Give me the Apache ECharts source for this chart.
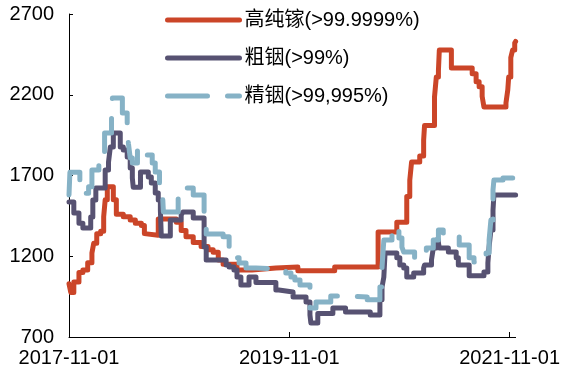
<!DOCTYPE html>
<html>
<head>
<meta charset="utf-8">
<script src="https://cdn.jsdelivr.net/npm/echarts@6/dist/echarts.min.js"></script>
<style>
html,body{margin:0;padding:0;background:#fff;}
#chart{width:563px;height:373px;}
</style>
</head>
<body>
<div id="chart"></div>
<script>
const seriesNames = ['高纯镓(>99.9999%)', '粗铟(>99%)', '精铟(>99,995%)'];

const galliumDates = ['2017-11-01','2017-11-07','2017-11-17','2017-12-04','2017-12-17','2018-01-02','2018-01-16','2018-01-22','2018-02-01','2018-02-14','2018-02-24','2018-03-01','2018-03-08','2018-03-28','2018-04-07','2018-04-30','2018-05-23','2018-06-09','2018-06-29','2018-07-09','2018-07-15','2018-08-24','2018-10-23','2018-11-08','2018-11-24','2018-12-18','2019-01-13','2019-02-05','2019-02-22','2019-03-11','2019-03-27','2019-05-12','2019-07-01','2019-09-18','2019-11-30','2020-03-31','2020-08-22','2020-10-23','2020-11-25','2020-12-05','2020-12-11','2021-01-07','2021-01-20','2021-01-23','2021-02-25','2021-03-03','2021-03-10','2021-03-13','2021-04-22','2021-06-30','2021-07-13','2021-07-23','2021-08-02','2021-08-08','2021-10-20','2021-10-26','2021-10-29','2021-11-05','2021-11-11','2021-11-18','2021-11-21'];
const galliumValues = [1030,975,1040,1100,1115,1160,1220,1280,1340,1355,1445,1550,1630,1550,1460,1445,1425,1405,1390,1340,1330,1430,1410,1360,1320,1285,1260,1240,1225,1177,1150,1115,1127,1133,1110,1133,1350,1410,1570,1670,1783,1820,1920,2010,2186,2310,2350,2477,2365,2330,2280,2250,2190,2124,2150,2230,2310,2430,2477,2520,2530];

const crudeIndiumDates = ['2017-11-01','2017-11-17','2017-12-04','2017-12-17','2018-01-12','2018-01-19','2018-01-29','2018-03-01','2018-03-12','2018-03-18','2018-03-28','2018-04-20','2018-04-30','2018-05-13','2018-05-23','2018-05-30','2018-06-02','2018-06-26','2018-07-22','2018-08-01','2018-08-14','2018-08-24','2018-08-31','2018-09-03','2018-10-03','2018-11-08','2018-11-14','2018-12-18','2019-01-23','2019-01-30','2019-04-06','2019-04-16','2019-05-02','2019-05-12','2019-05-25','2019-06-21','2019-07-14','2019-09-18','2019-09-28','2019-11-14','2019-12-27','2020-01-09','2020-01-12','2020-02-04','2020-03-25','2020-05-06','2020-07-27','2020-08-28','2020-09-04','2020-09-10','2020-09-14','2020-10-23','2020-11-02','2020-11-15','2020-11-25','2020-12-18','2021-01-20','2021-01-23','2021-02-15','2021-02-21','2021-03-03','2021-03-10','2021-03-13','2021-04-12','2021-05-08','2021-05-15','2021-06-20','2021-08-08','2021-08-21','2021-08-25','2021-08-31','2021-09-07','2021-09-10','2021-11-21'];
const crudeIndiumValues = [1536,1468,1405,1375,1443,1548,1622,1734,1783,1876,1963,1876,1858,1814,1746,1684,1628,1721,1690,1653,1591,1548,1486,1325,1424,1455,1474,1437,1257,1177,1146,1133,1115,1071,1022,1071,1037,991,979,948,917,836,787,845,880,855,836,930,1010,1071,1220,1190,1146,1127,1071,1096,1127,1146,1177,1251,1300,1282,1251,1226,1190,1146,1080,1102,1158,1257,1362,1486,1580,1580];

const refinedIndiumDates = ['2017-11-01','2017-11-04','2017-12-07','2018-01-05','2018-01-16','2018-02-08','2018-02-27','2018-03-22','2018-03-25','2018-04-27','2018-05-13','2018-05-17','2018-05-23','2018-05-30','2018-06-16','2018-07-09','2018-07-15','2018-08-04','2018-08-14','2018-08-28','2018-09-07','2018-09-10','2018-10-29','2018-11-08','2018-12-18','2019-01-23','2019-01-30','2019-03-27','2019-04-16','2019-04-26','2019-05-09','2019-05-19','2019-06-11','2019-07-14','2019-09-28','2019-10-21','2019-11-07','2019-11-20','2019-12-07','2020-01-09','2020-01-29','2020-03-18','2020-05-13','2020-07-17','2020-08-28','2020-09-04','2020-09-10','2020-10-07','2020-10-23','2020-10-30','2020-11-09','2020-11-15','2020-12-21','2021-01-03','2021-01-29','2021-02-21','2021-03-10','2021-03-26','2021-05-18','2021-06-20','2021-07-06','2021-08-08','2021-08-15','2021-08-25','2021-08-31','2021-09-07','2021-09-10','2021-10-10','2021-11-21'];
const refinedIndiumValues = [1580,1720,1590,1630,1734,1827,1963,2124,2180,2087,1994,1900,1808,1777,1876,1870,1827,1777,1721,1628,1591,1474,1567,1622,1579,1468,1338,1320,1251,1226,1190,1158,1127,1121,1115,1096,1071,1053,1022,880,917,954,948,930,1010,1133,1300,1362,1381,1313,1257,1226,1190,1226,1251,1300,1362,1344,1270,1190,1164,1190,1220,1300,1424,1610,1672,1685,1685];

const yMin = 700, yMax = 2700, yStep = 500;
const xStart = '2017-11-01', xEnd = '2021-11-21';
const xTickLabels = ['2017-11-01', '2019-11-01', '2021-11-01'];

const colors = ['#CB4528', '#575272', '#86B2C6'];
const FONT = "'Liberation Sans', Arial, 'Noto Sans CJK SC', sans-serif";

const DAY = 86400000;
const t0 = Date.parse(xStart + 'T00:00:00Z');
const dayOf = d => Math.round((Date.parse(d + 'T00:00:00Z') - t0) / DAY);
const zip = (ds, vs) => ds.map((d, i) => [dayOf(d), vs[i]]);
const xStep = dayOf(xTickLabels[2]) / 2; // two-year spacing in days

const chart = echarts.init(document.getElementById('chart'), null, {renderer: 'canvas'});

const mk = (name, data, color, type) => ({
  name: name,
  type: 'line',
  step: 'end',
  data: data,
  symbol: 'none',
  showSymbol: false,
  animation: false,
  itemStyle: {color: color},
  lineStyle: {color: color, width: 5, type: type, cap: 'round', join: 'round'}
});

chart.setOption({
  animation: false,
  textStyle: {fontFamily: FONT},
  grid: {left: 69, right: 43, top: 14, bottom: 36},
  legend: {
    orient: 'vertical',
    left: 165,
    top: 10,
    padding: 0,
    itemWidth: 72,
    itemHeight: 14,
    itemGap: 18,
    textStyle: {fontSize: 20, color: '#000', fontFamily: FONT},
    itemStyle: {opacity: 0},
    lineStyle: {width: 5},
    data: seriesNames
  },
  xAxis: {
    type: 'value',
    min: 0,
    max: dayOf(xEnd),
    interval: xStep,
    splitLine: {show: false},
    axisLine: {lineStyle: {color: '#000', width: 1}},
    axisTick: {show: true, inside: true, length: 5, lineStyle: {color: '#000'}},
    axisLabel: {
      fontSize: 20, color: '#000', margin: 11, fontFamily: FONT,
      showMaxLabel: false,
      formatter: v => {
        const i = Math.round(v / xStep);
        return Math.abs(v - i * xStep) < 1 ? (xTickLabels[i] || '') : '';
      }
    }
  },
  yAxis: {
    type: 'value',
    min: yMin, max: yMax, interval: yStep,
    splitLine: {show: false},
    axisLine: {show: true, lineStyle: {color: '#000', width: 1}},
    axisTick: {show: true, inside: true, length: 4, lineStyle: {color: '#000'}},
    axisLabel: {fontSize: 20, color: '#000', margin: 15, fontFamily: FONT, formatter: v => String(v)}
  },
  series: [
    mk(seriesNames[0], zip(galliumDates, galliumValues), colors[0], 'solid'),
    mk(seriesNames[1], zip(crudeIndiumDates, crudeIndiumValues), colors[1], 'solid'),
    mk(seriesNames[2], zip(refinedIndiumDates, refinedIndiumValues), colors[2], [40, 20])
  ]
});
</script>
</body>
</html>
